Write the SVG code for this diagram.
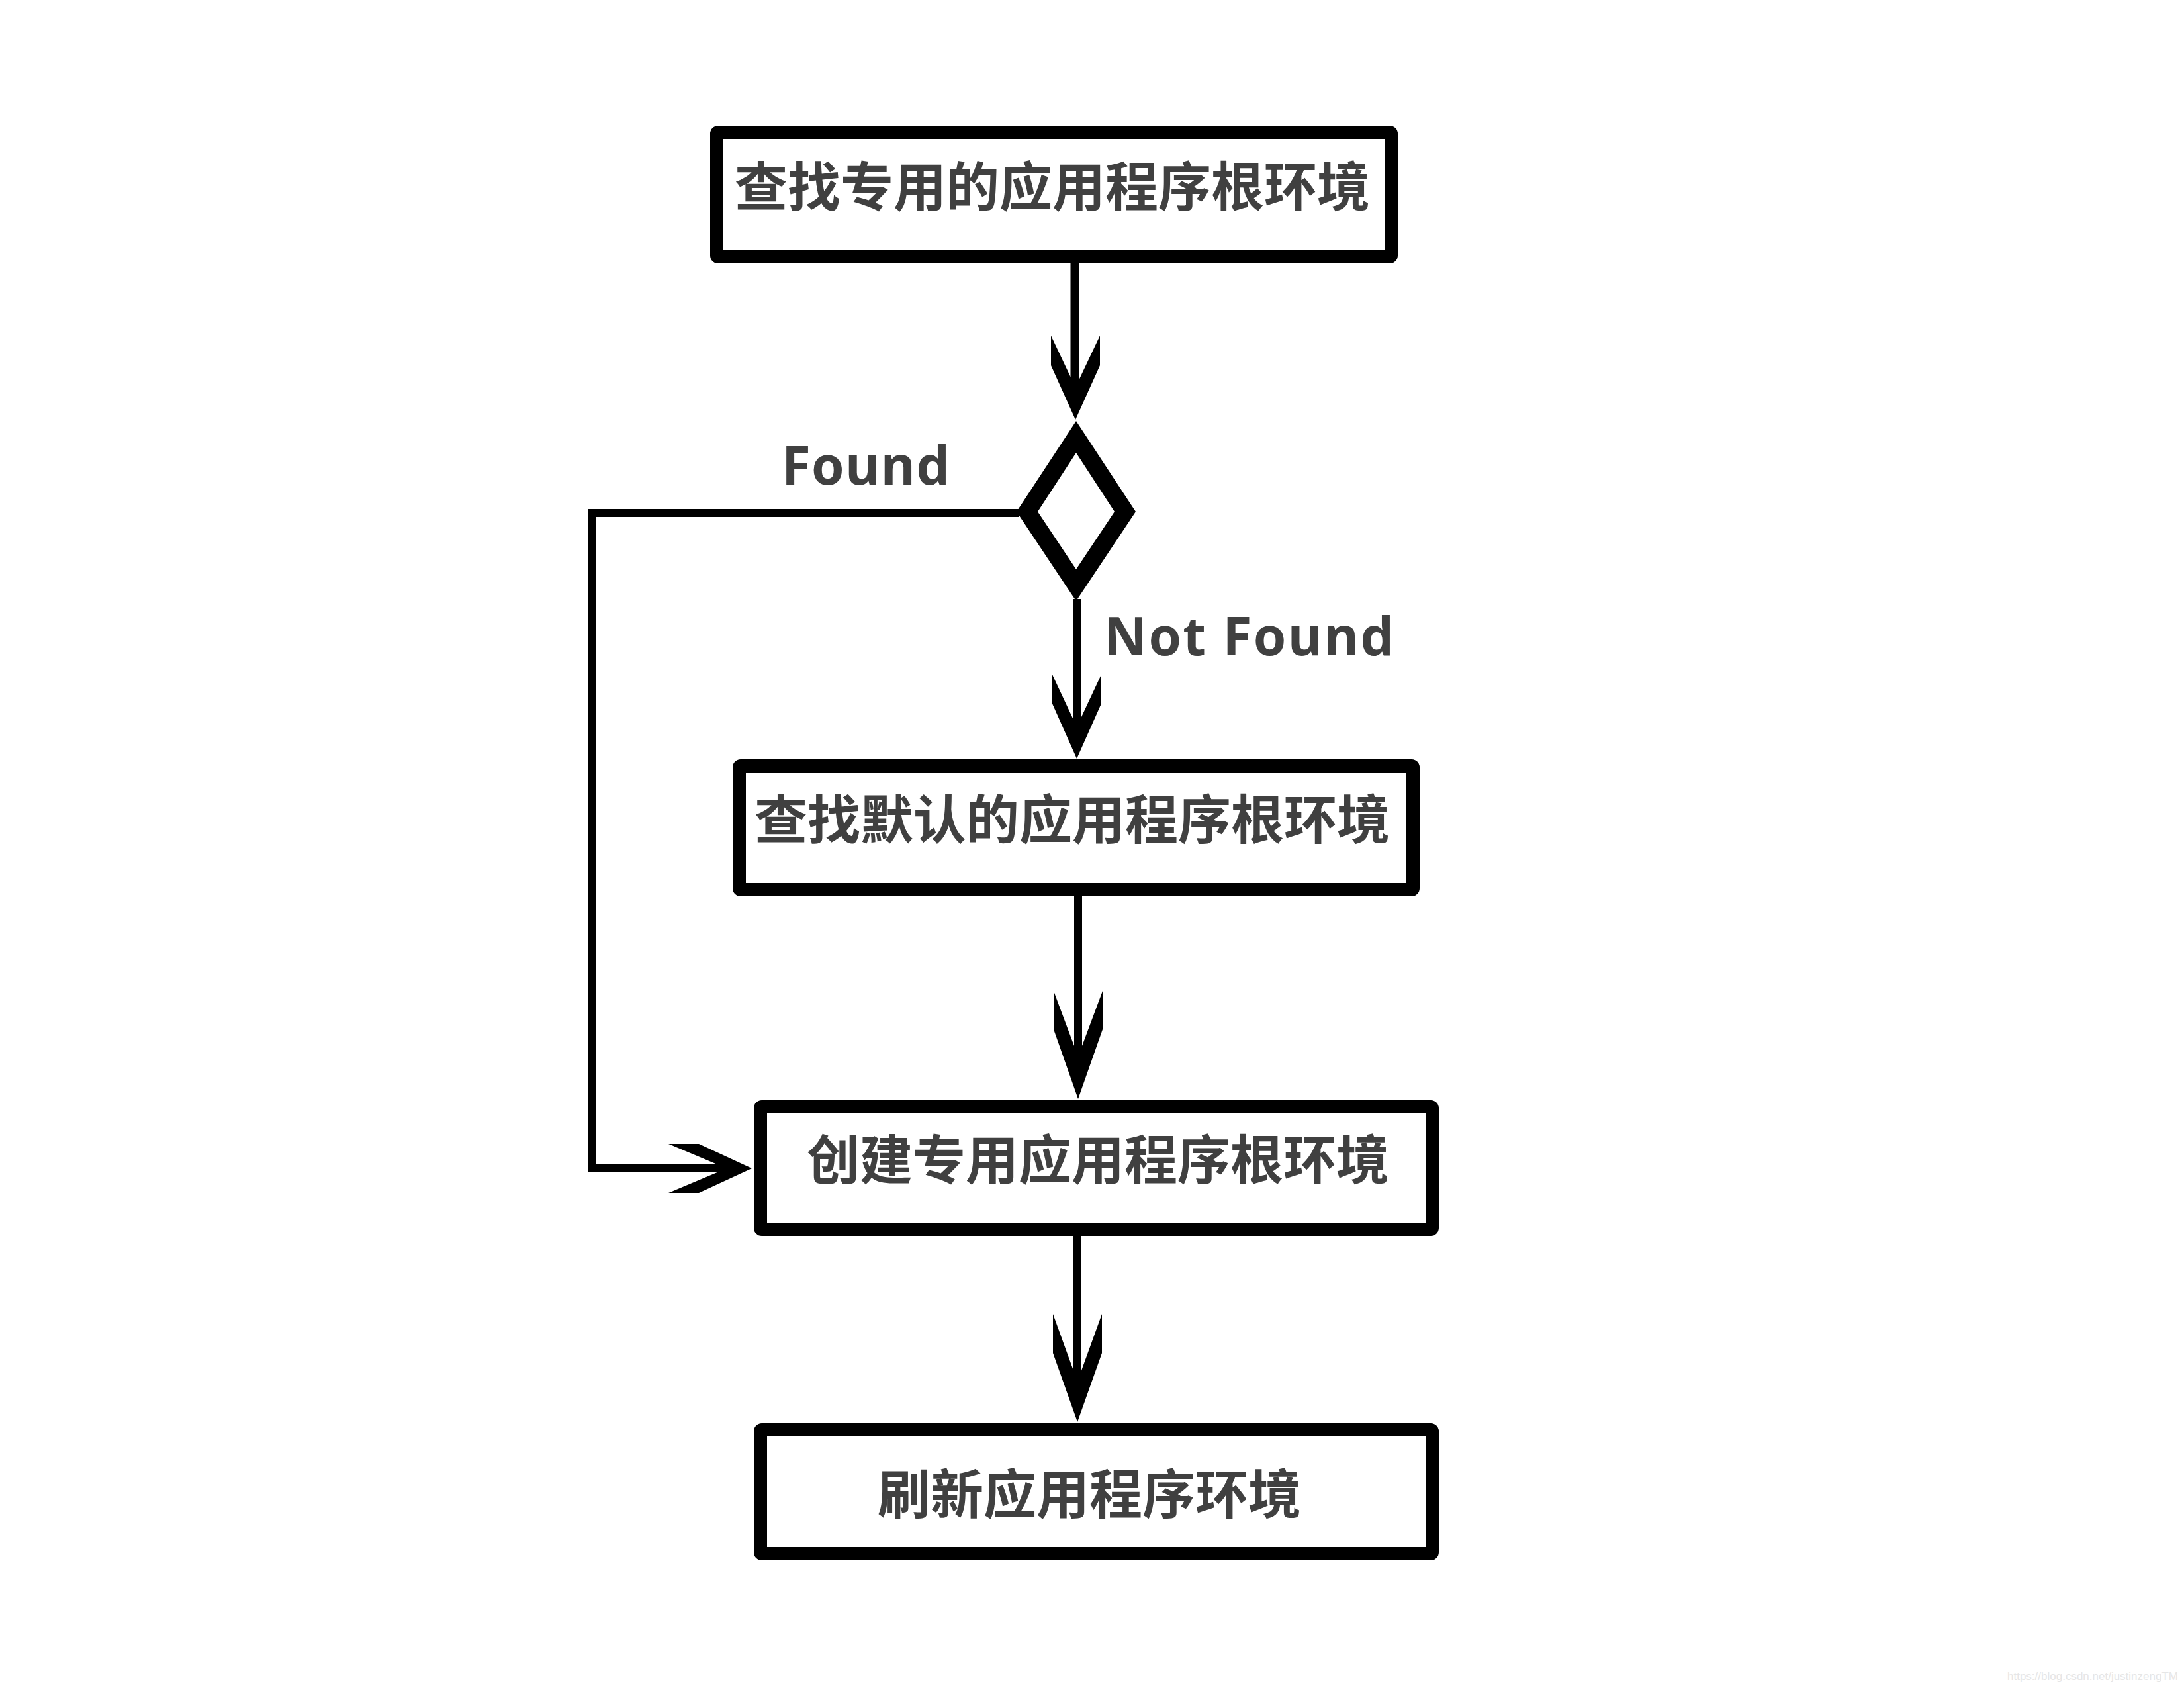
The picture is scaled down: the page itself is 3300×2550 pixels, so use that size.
<svg xmlns="http://www.w3.org/2000/svg" width="3300" height="2550" viewBox="0 0 3300 2550">
<style>
.box{fill:#fff;stroke:#000;stroke-width:20;rx:2px}
.lbl{font-family:"Noto Sans CJK SC","Noto Sans",sans-serif;font-weight:bold;font-size:80px;fill:#404040;text-anchor:middle}
.edge{font-family:"Open Sans","Noto Sans","Liberation Sans",sans-serif;font-weight:bold;font-size:80px;fill:#404040}
.ln{fill:none;stroke:#000;stroke-width:12;stroke-linejoin:miter}
.ah{fill:#000;stroke:none}
.wm{font-family:"Liberation Sans",Arial,sans-serif;font-size:17px;fill:#e6e6e6;text-anchor:end}
</style>
<rect width="3300" height="2550" fill="#fff"/>
<g id="connectors">
  <line class="ln" x1="1624" y1="395" x2="1624" y2="615" style="stroke-width:13"/>
  <polygon class="ah" points="1588,507 1588,552 1625,634 1662,552 1662,507 1625,585"/>
  <line class="ln" x1="1627" y1="905" x2="1627" y2="1130"/>
  <polygon class="ah" points="1590,1019 1590,1063 1627,1146 1664,1063 1664,1019 1627,1098"/>
  <line class="ln" x1="1629" y1="1350" x2="1629" y2="1640"/>
  <polygon class="ah" points="1592,1497 1592,1555 1629,1660 1666,1555 1666,1497 1629,1596"/>
  <line class="ln" x1="1628" y1="1845" x2="1628" y2="2130"/>
  <polygon class="ah" points="1591,1985 1591,2044 1628,2148 1665,2044 1665,1985 1628,2087"/>
  <polyline class="ln" points="1540,775 894,775 894,1765 1110,1765"/>
  <polygon class="ah" points="1010,1728 1056,1728 1136,1765 1056,1802 1010,1802 1098,1765"/>
  <text class="edge" x="1181" y="732" textLength="254" lengthAdjust="spacing">Found</text>
  <text class="edge" x="1668" y="990" textLength="438" lengthAdjust="spacing">Not Found</text>
</g>
<g id="n1">
  <rect class="box" x="1083" y="200" width="1019" height="188"/>
  <text class="lbl" x="1590" y="311">查找专用的应用程序根环境</text>
</g>
<g id="decision">
  <path d="M1626,636 L1716,773 L1626,908 L1536,773 Z M1626,684 L1684,773 L1626,860 L1568,773 Z" fill="#000" fill-rule="evenodd"/>
</g>
<g id="n2">
  <rect class="box" x="1117" y="1157" width="1018" height="187"/>
  <text class="lbl" x="1620" y="1267">查找默认的应用程序根环境</text>
</g>
<g id="n3">
  <rect class="box" x="1149" y="1672" width="1015" height="185"/>
  <text class="lbl" x="1659" y="1781">创建专用应用程序根环境</text>
</g>
<g id="n4">
  <rect class="box" x="1149" y="2160" width="1015" height="187"/>
  <text class="lbl" x="1646" y="2286">刷新应用程序环境</text>
</g>
<text class="wm" x="3291" y="2538">https://blog.csdn.net/justinzengTM</text>
</svg>
